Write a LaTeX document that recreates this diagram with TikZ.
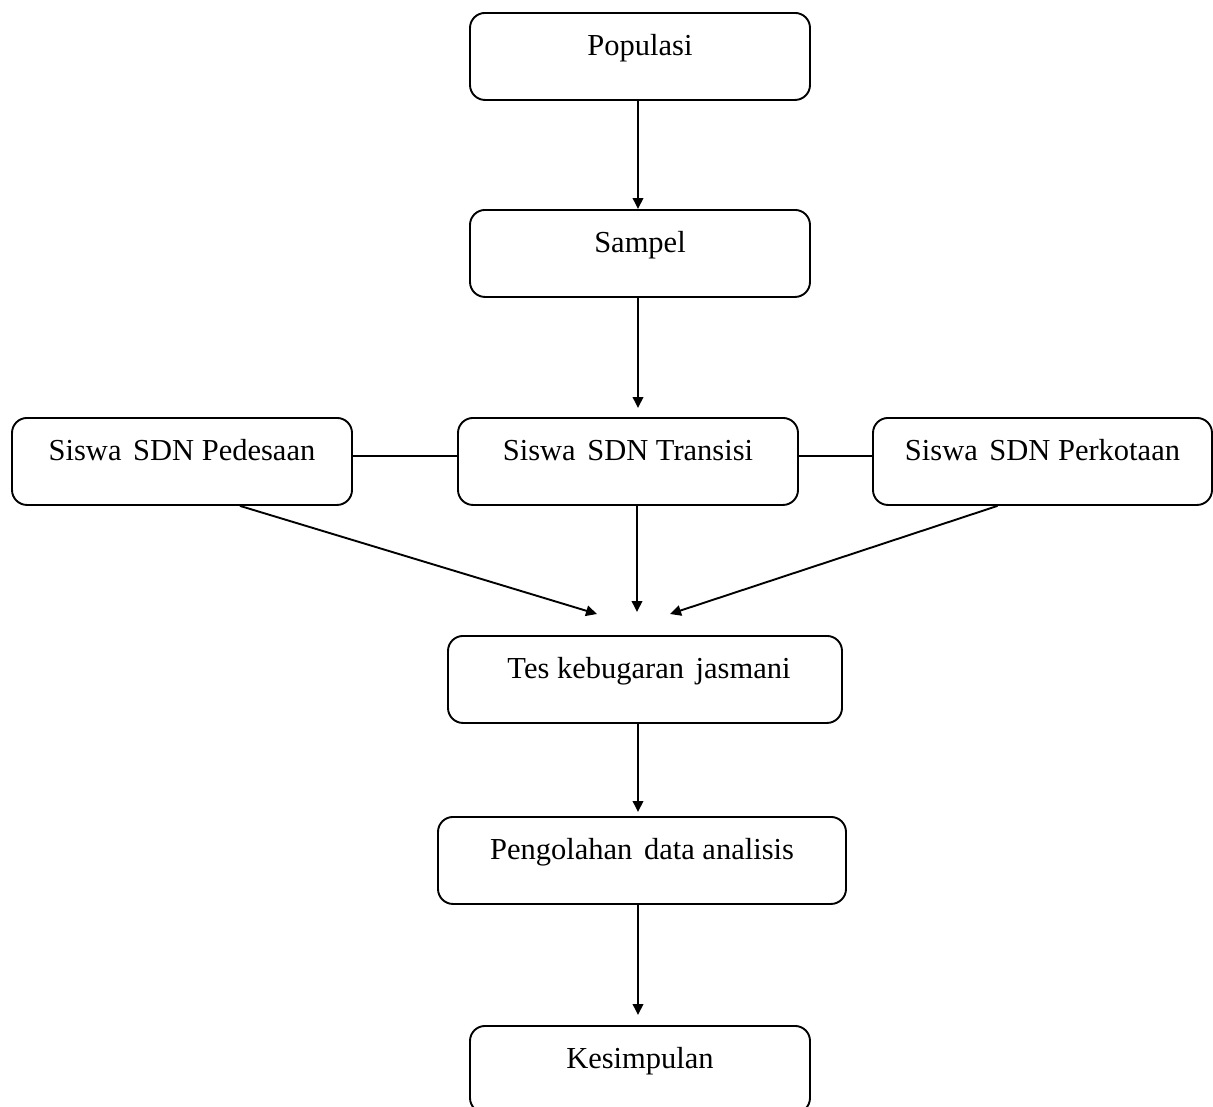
\documentclass[tikz,border=0pt]{standalone}
\usepackage{fontspec}
\setmainfont{Liberation Serif}
\usetikzlibrary{arrows.meta}
\newcommand{\xgap}{\hspace{4pt}}
\tikzset{
  box/.style={draw, line width=1.9pt, rounded corners=15pt, inner sep=0pt,
    anchor=north, text height=43pt, text depth=44pt, align=center,
    font=\fontsize{30.5}{36}\selectfont},
  conn/.style={line width=1.9pt},
  arr/.style={line width=1.9pt, -{Triangle[length=11pt,width=10.5pt]}}
}
\begin{document}
\begin{tikzpicture}[x=1pt,y=-1pt]
\useasboundingbox (0,0) rectangle (1213,1106);
\clip (0,0) rectangle (1213,1106);
\node[box, minimum width=340pt] (pop) at (640,12) {Populasi};
\node[box, minimum width=340pt] (samp) at (640,209) {Sampel};
\node[box, minimum width=340pt] (ped) at (182,417) {Siswa \xgap SDN Pedesaan};
\node[box, minimum width=340pt] (trans) at (628,417) {Siswa \xgap SDN Transisi};
\node[box, minimum width=339pt] (perk) at (1042.5,417) {Siswa \xgap SDN Perkotaan};
\node[box, minimum width=394pt] (tes) at (645,635) {\hspace*{8pt}Tes kebugaran \xgap jasmani};
\node[box, minimum width=408pt] (peng) at (642,816) {Pengolahan \xgap data analisis};
\node[box, minimum width=340pt] (kes) at (640,1025) {Kesimpulan};
\coordinate (tL) at (597,614);
\coordinate (tM) at (637,612);
\coordinate (tR) at (670,614);
\draw[arr] (pop.south -| 638,0) -- (samp.north -| 638,0);
\draw[arr, shorten >=9pt] (samp.south -| 638,0) -- (trans.north -| 638,0);
\draw[conn] (ped.east |- 0,456) -- (trans.west |- 0,456);
\draw[conn] (trans.east |- 0,456) -- (perk.west |- 0,456);
\draw[arr] ([xshift=58pt]ped.south) -- (tL);
\draw[arr] (tM |- trans.south) -- (tM);
\draw[arr] ([xshift=-45pt]perk.south) -- (tR);
\draw[arr, shorten >=4pt] (tes.south -| 638,0) -- (peng.north -| 638,0);
\draw[arr, shorten >=10pt] (peng.south -| 638,0) -- (kes.north -| 638,0);
\end{tikzpicture}
\end{document}
